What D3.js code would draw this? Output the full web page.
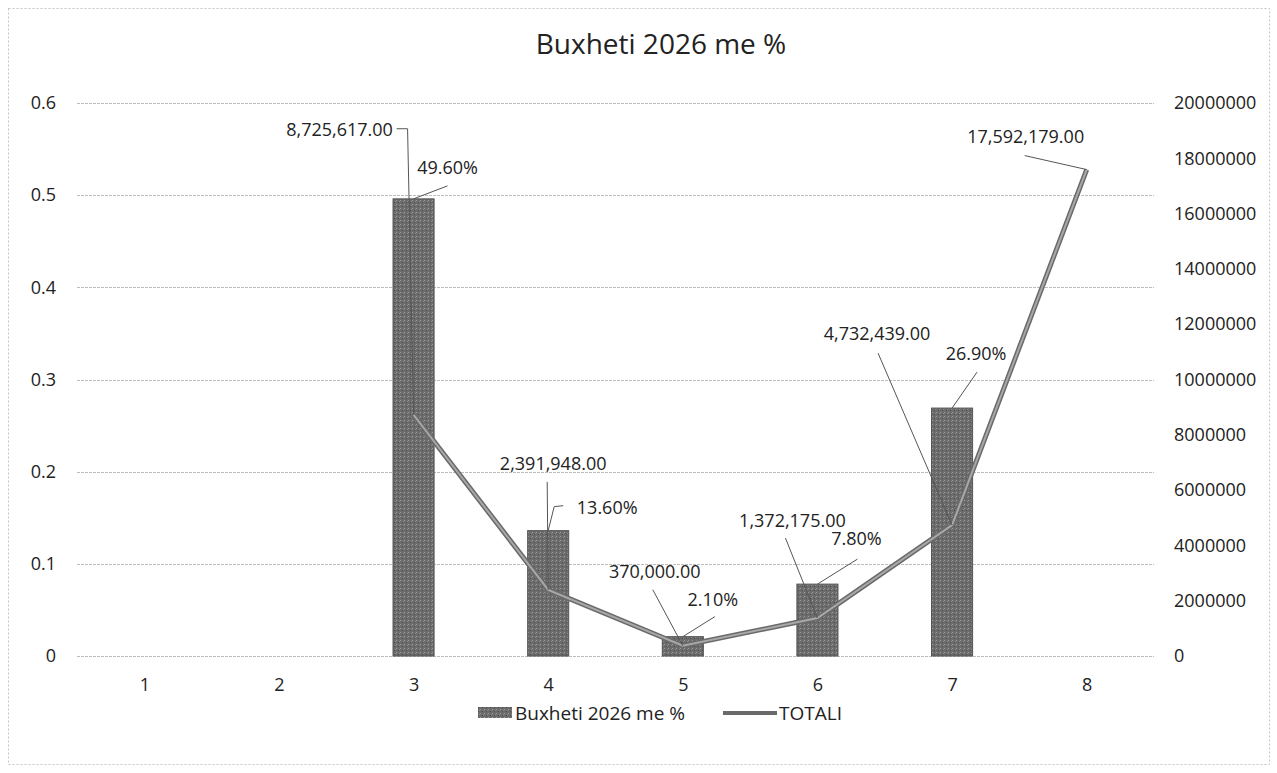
<!DOCTYPE html>
<html>
<head>
<meta charset="utf-8">
<script src="https://cdn.jsdelivr.net/npm/d3@7/dist/d3.min.js"></script>
<style>
  body { margin: 0; background: #fff; }
  text { font-family: "Open Sans", "Noto Sans", sans-serif; fill: #222; }
</style>
</head>
<body>
<div id="plot"></div>
<script>
// chart data
var categories = ['1', '2', '3', '4', '5', '6', '7', '8'];
var percentValues = [null, null, 0.496, 0.136, 0.021, 0.078, 0.269, null];
var percentLabels = [null, null, '49.60%', '13.60%', '2.10%', '7.80%', '26.90%', null];
var totalValues = [null, null, 8725617, 2391948, 370000, 1372175, 4732439, 17592179];
var totalLabels = [null, null, '8,725,617.00', '2,391,948.00', '370,000.00', '1,372,175.00', '4,732,439.00', '17,592,179.00'];
var leftTicks = [0, 0.1, 0.2, 0.3, 0.4, 0.5, 0.6];
var rightTicks = [0, 2000000, 4000000, 6000000, 8000000, 10000000, 12000000, 14000000, 16000000, 18000000, 20000000];

// label layout: text centre offset from the point, then leader bends relative to the text centre
var pctLayout = [null, null,
  {dx: 34, dy: -31, leader: [[0, 18]]},
  {dx: 59, dy: -23, leader: [[-44, -2], [-53, -1]]},
  {dx: 30, dy: -37, leader: [[2, 17]]},
  {dx: 39, dy: -45, leader: [[1, 20]]},
  {dx: 24, dy: -54, leader: [[1, 18]]},
  null];
var totLayout = [null, null,
  {dx: -74, dy: -285, leader: [[57, -1], [68, -1]]},
  {dx: 5, dy: -126, leader: [[-6, 18]]},
  {dx: -28, dy: -74, leader: [[-2, 18]]},
  {dx: -25, dy: -97, leader: [[-7, 17]]},
  {dx: -75, dy: -191, leader: [[1, 19]]},
  {dx: -61, dy: -33, leader: [[-1, 19]]}];

var svg_width = 1277, svg_height = 773;
var plotLeft = 77, plotRight = 1154, plotTop = 103, plotBottom = 656;

var svg = d3.select('#plot').append('svg')
  .attr('width', svg_width)
  .attr('height', svg_height);

// chart border
svg.append('rect')
  .attr('x', 8.5).attr('y', 8.5)
  .attr('width', 1261).attr('height', 756)
  .attr('fill', 'none')
  .attr('stroke', '#c4c4c4')
  .attr('stroke-dasharray', '2,2');

var xscale = d3.scaleBand()
  .domain(categories)
  .range([plotLeft, plotRight])
  .paddingInner(0.695)
  .paddingOuter(0.3475);
var yscale = d3.scaleLinear().domain([0, 0.6]).range([plotBottom, plotTop]);
var y2scale = d3.scaleLinear().domain([0, 20000000]).range([plotBottom, plotTop]);
var cx = function(i) { return xscale(categories[i]) + xscale.bandwidth() / 2; };

// gridlines
svg.append('g').selectAll('line')
  .data(leftTicks)
  .enter().append('line')
    .attr('x1', plotLeft).attr('x2', plotRight)
    .attr('y1', d => Math.round(yscale(d)) + 0.5)
    .attr('y2', d => Math.round(yscale(d)) + 0.5)
    .attr('stroke', '#bdbdbd')
    .attr('stroke-width', 1)
    .attr('stroke-dasharray', '3,1');

// left axis
var yaxis = d3.axisLeft(yscale).tickValues(leftTicks).tickSize(0).tickPadding(0)
  .tickFormat(d => d === 0 ? '0' : d3.format('.1f')(d));
svg.append('g')
  .attr('class', 'yaxis')
  .attr('transform', 'translate(56, 0)')
  .call(yaxis);

// right axis
var y2axis = d3.axisRight(y2scale).tickValues(rightTicks).tickSize(0).tickPadding(0)
  .tickFormat(d3.format('d'));
svg.append('g')
  .attr('class', 'y2axis')
  .attr('transform', 'translate(1174, 0)')
  .call(y2axis);

// bottom axis
var xaxis = d3.axisBottom(d3.scalePoint().domain(categories).range([plotLeft, plotRight]).padding(0.5))
  .tickSize(0).tickPadding(0);
svg.append('g')
  .attr('class', 'xaxis')
  .attr('transform', 'translate(0, 678)')
  .call(xaxis);

svg.selectAll('.yaxis path, .y2axis path, .xaxis path').remove();
svg.selectAll('.yaxis text, .y2axis text, .xaxis text')
  .style('font-family', '"Open Sans", sans-serif')
  .style('font-size', '18px')
  .attr('fill', '#222');

// bar pattern (scanned look)
var defs = svg.append('defs');
var pat = defs.append('pattern')
  .attr('id', 'barfill')
  .attr('width', 4).attr('height', 4)
  .attr('patternUnits', 'userSpaceOnUse');
pat.append('rect').attr('width', 4).attr('height', 4).attr('fill', '#6c6c6c');
pat.append('rect').attr('x', 0).attr('y', 0).attr('width', 1).attr('height', 1).attr('fill', '#9a9a9a');
pat.append('rect').attr('x', 2).attr('y', 2).attr('width', 1).attr('height', 1).attr('fill', '#4a4a4a');
pat.append('rect').attr('x', 3).attr('y', 1).attr('width', 1).attr('height', 1).attr('fill', '#8a8a8a');

var barData = percentValues.map((v, i) => ({cat: categories[i], value: v, i: i})).filter(d => d.value !== null);

svg.append('g').selectAll('rect')
  .data(barData)
  .enter().append('rect')
    .attr('x', d => xscale(d.cat))
    .attr('y', d => yscale(d.value))
    .attr('width', xscale.bandwidth())
    .attr('height', d => yscale(0) - yscale(d.value))
    .attr('fill', 'url(#barfill)')
    .attr('stroke', '#555')
    .attr('stroke-width', 1);

// TOTALI line
var lineData = totalValues.map((v, i) => ({i: i, value: v})).filter(d => d.value !== null);
var line = d3.line().x(d => cx(d.i)).y(d => y2scale(d.value));

svg.append('path')
  .datum(lineData)
  .attr('d', line)
  .attr('fill', 'none')
  .attr('stroke', '#6a6a6a')
  .attr('stroke-width', 5);
svg.append('path')
  .datum(lineData)
  .attr('d', line)
  .attr('fill', 'none')
  .attr('stroke', '#a8a8a8')
  .attr('stroke-width', 2);

// data labels with leader lines
var labels = svg.append('g');
function addLabel(px, py, lay, txt) {
  var tx = px + lay.dx, ty = py + lay.dy;
  var pts = lay.leader.map(p => [tx + p[0], ty + p[1]]);
  pts.push([px, py]);
  labels.append('path')
    .attr('d', d3.line()(pts))
    .attr('fill', 'none')
    .attr('stroke', '#555')
    .attr('stroke-width', 1);
  labels.append('text')
    .attr('x', tx).attr('y', ty)
    .attr('dy', '0.35em')
    .attr('text-anchor', 'middle')
    .style('font-size', '18px')
    .text(txt);
}
percentValues.forEach(function(v, i) {
  if (v === null) return;
  addLabel(cx(i), yscale(v), pctLayout[i], percentLabels[i]);
});
totalValues.forEach(function(v, i) {
  if (v === null) return;
  addLabel(cx(i), y2scale(v), totLayout[i], totalLabels[i]);
});

// title
svg.append('text')
  .attr('x', 661).attr('y', 54)
  .attr('text-anchor', 'middle')
  .style('font-size', '28px')
  .text('Buxheti 2026 me %');

// legend
var legend = svg.append('g').attr('transform', 'translate(0, 713)');
legend.append('rect')
  .attr('x', 478).attr('y', -6).attr('width', 34).attr('height', 11)
  .attr('fill', 'url(#barfill)');
legend.append('text')
  .attr('x', 515).attr('y', 7)
  .style('font-size', '19px')
  .text('Buxheti 2026 me %');
legend.append('line')
  .attr('x1', 723).attr('x2', 777).attr('y1', 0).attr('y2', 0)
  .attr('stroke', '#6a6a6a').attr('stroke-width', 4);
legend.append('text')
  .attr('x', 779).attr('y', 7)
  .style('font-size', '19px')
  .text('TOTALI');
</script>
</body>
</html>
